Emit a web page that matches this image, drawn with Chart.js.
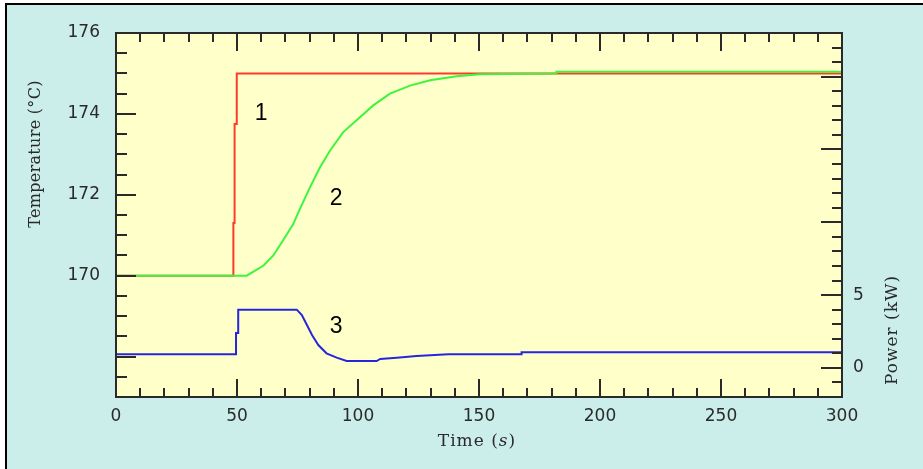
<!DOCTYPE html>
<html><head><meta charset="utf-8">
<script src="https://cdn.jsdelivr.net/npm/chart.js@4.4.1/dist/chart.umd.min.js"></script>
<style>html,body{margin:0;padding:0;background:#fff;overflow:hidden}canvas{display:block}</style>
</head><body>
<canvas id="c" width="923" height="469"></canvas>
<script>
// ---- data ----
const timeRed  = [0, 48.5, 48.5, 49.0, 49.0, 49.9, 49.9, 300];
const tempRed  = [170, 170, 171.3, 171.3, 173.75, 173.75, 175.0, 175.0];

const timeGreen = [0, 54, 61, 65, 69, 73.3, 76, 80.2, 84.3, 88.4, 93.9, 99.4, 106.3, 113.2, 121.5, 129.8, 140.8, 150.4, 182, 182, 300];
const tempGreen = [170, 170, 170.25, 170.5, 170.87, 171.28, 171.65, 172.19, 172.68, 173.09, 173.55, 173.84, 174.21, 174.5, 174.7, 174.83, 174.93, 174.98, 175.0, 175.04, 175.04];

const timeBlue  = [0, 49.6, 49.6, 50.5, 50.5, 74.7, 76.8, 78.9, 81.0, 83.6, 87.0, 91.2, 95.3, 107.7, 109.2, 116, 124.2, 137.3, 167.6, 167.6, 300];
const powerBlue = [0.93, 0.93, 2.4, 2.4, 4.0, 4.0, 3.63, 2.95, 2.26, 1.57, 1.0, 0.70, 0.47, 0.47, 0.61, 0.70, 0.82, 0.93, 0.93, 1.07, 1.07];

const timeTickLabels  = [0, 50, 100, 150, 200, 250, 300];
const tempTickLabels  = [170, 172, 174, 176];
const powerTickLabels = [0, 5];

const noteLabels = ['1', '2', '3'];
const noteTime   = [60, 91, 91];
const noteValue  = [174, 171.9, 2.8];
const noteAxis   = ['yT', 'yT', 'yP'];

const yTitle = 'Temperature (°C)';
const y2Title = 'Power (kW)';

// ---- styles ----
const BG = '#cbeeea';
const PLOT = '#ffffc9';
const INK = '#2a2a2a';

const zip = (xs, ys) => xs.map((x, i) => ({x, y: ys[i]}));

const decor = {
  id: 'decor',
  beforeDraw(chart) {
    const {ctx, chartArea: a, width, height} = chart;
    ctx.save();
    ctx.fillStyle = '#fff'; ctx.fillRect(0, 0, width, height);
    ctx.fillStyle = BG; ctx.fillRect(5, 3, width - 5, height - 3);
    ctx.fillStyle = '#000'; ctx.fillRect(5, 3, width - 5, 2); ctx.fillRect(5, 3, 2, height - 3);
    ctx.fillStyle = PLOT; ctx.fillRect(a.left, a.top, a.right - a.left, a.bottom - a.top);
    ctx.restore();
  },
  afterDatasetsDraw(chart) {
    const {ctx, chartArea: a, scales} = chart;
    ctx.save();
    ctx.strokeStyle = INK; ctx.lineWidth = 2; ctx.lineCap = 'butt';
    const line = (x1, y1, x2, y2) => { ctx.beginPath(); ctx.moveTo(x1, y1); ctx.lineTo(x2, y2); ctx.stroke(); };
    scales.x.ticks.forEach(t => {
      const px = Math.round(scales.x.getPixelForValue(t.value));
      const len = (t.value % 50 === 0) ? 18 : 9;
      line(px, a.bottom, px, a.bottom - len);
      line(px, a.top, px, a.top + len);
    });
    scales.yT.ticks.forEach(t => {
      const py = Math.round(scales.yT.getPixelForValue(t.value));
      const len = (t.value % 2 === 0) ? 20 : 11;
      line(a.left, py, a.left + len, py);
    });
    scales.yP.ticks.forEach(t => {
      const py = Math.round(scales.yP.getPixelForValue(t.value));
      const len = (t.value % 5 === 0) ? 21 : 10;
      line(a.right, py, a.right - len, py);
    });
    ctx.strokeRect(a.left, a.top, a.right - a.left, a.bottom - a.top);
    ctx.fillStyle = '#000';
    ctx.font = '23px "Liberation Sans", Arial, sans-serif';
    ctx.textAlign = 'center'; ctx.textBaseline = 'middle';
    noteLabels.forEach((s, i) => {
      ctx.fillText(s, scales.x.getPixelForValue(noteTime[i]), scales[noteAxis[i]].getPixelForValue(noteValue[i]));
    });
    ctx.restore();
  },
  afterDraw(chart) {
    const {ctx} = chart;
    ctx.save();
    ctx.fillStyle = INK;
    ctx.textBaseline = 'middle';
    const fN = '17px "DejaVu Serif", serif', fI = 'italic 17px "DejaVu Serif", serif';
    ctx.letterSpacing = '1px';
    const parts = [['Time (', fN], ['s', fI], [')', fN]];
    let w = 0; parts.forEach(p => { ctx.font = p[1]; w += ctx.measureText(p[0]).width; });
    let x = 477 - w / 2;
    ctx.textAlign = 'left';
    parts.forEach(p => { ctx.font = p[1]; ctx.fillText(p[0], x, 442); x += ctx.measureText(p[0]).width; });
    ctx.textAlign = 'center';
    ctx.letterSpacing = '0.3px';
    ctx.font = '16px "DejaVu Serif", serif';
    ctx.save(); ctx.translate(36, 154); ctx.rotate(-Math.PI / 2); ctx.fillText(yTitle, 0, 0); ctx.restore();
    ctx.letterSpacing = '1px';
    ctx.font = '17px "DejaVu Serif", serif';
    ctx.save(); ctx.translate(893, 330); ctx.rotate(-Math.PI / 2); ctx.fillText(y2Title, 0, 0); ctx.restore();
    ctx.restore();
  }
};

Chart.defaults.font.family = '"DejaVu Sans", sans-serif';
Chart.defaults.font.size = 17;
Chart.defaults.color = INK;

new Chart(document.getElementById('c'), {
  type: 'line',
  data: {
    datasets: [
      {label: 'T2', data: zip(timeGreen, tempGreen), yAxisID: 'yT', borderColor: '#3df53d', borderWidth: 2, pointRadius: 0, tension: 0, order: 0},
      {label: 'P', data: zip(timeBlue, powerBlue), yAxisID: 'yP', borderColor: '#2626dd', borderWidth: 2, pointRadius: 0, tension: 0, order: 1},
      {label: 'T1', data: zip(timeRed, tempRed), yAxisID: 'yT', borderColor: '#ff3a2a', borderWidth: 2, pointRadius: 0, tension: 0, order: 2}
    ]
  },
  options: {
    responsive: false, animation: false, devicePixelRatio: 1,
    layout: {padding: {left: 0, right: 0, top: 33, bottom: 0}},
    plugins: {legend: {display: false}, tooltip: {enabled: false}},
    scales: {
      x: {
        type: 'linear', min: 0, max: 300,
        grid: {display: false, drawTicks: false}, border: {display: false},
        ticks: {stepSize: 10, autoSkip: false, maxRotation: 0, minRotation: 0, padding: 9,
          callback: v => timeTickLabels.includes(v) ? String(v) : ''},
        afterFit: s => { s.height = 72; }
      },
      yT: {
        type: 'linear', position: 'left', min: 167, max: 176,
        grid: {display: false, drawTicks: false}, border: {display: false},
        ticks: {stepSize: 0.5, autoSkip: false, padding: 16,
          callback: v => tempTickLabels.includes(v) ? String(v) : ''},
        afterFit: s => { s.width = 116; }
      },
      yP: {
        type: 'linear', position: 'right', min: -2, max: 23,
        grid: {display: false, drawTicks: false}, border: {display: false},
        ticks: {stepSize: 1, autoSkip: false, padding: 11,
          callback: v => powerTickLabels.includes(v) ? String(v) : ''},
        afterFit: s => { s.width = 81; }
      }
    }
  },
  plugins: [decor]
});
</script>
</body></html>
